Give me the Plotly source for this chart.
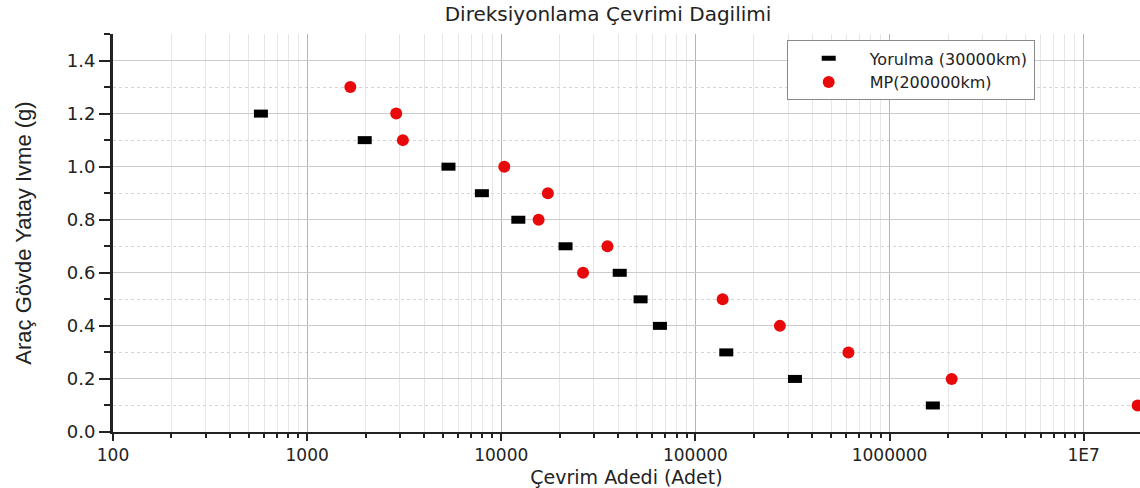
import plotly.graph_objects as go

# Cycle counts per lateral body acceleration level
yorulma_g = [1.2, 1.1, 1.0, 0.9, 0.8, 0.7, 0.6, 0.5, 0.4, 0.3, 0.2, 0.1]
yorulma_cycles = [578, 1980, 5345, 7945, 12240, 21430, 40750, 52180, 65650,
                  144200, 325600, 1671000]

mp_g = [1.3, 1.2, 1.1, 1.0, 0.9, 0.8, 0.7, 0.6, 0.5, 0.4, 0.3, 0.2, 0.1]
mp_cycles = [1669, 2876, 3112, 10360, 17380, 15570, 35230, 26370, 138100,
             272300, 614000, 2090000, 18970000]

x_tickvals = [100, 1000, 10000, 100000, 1000000, 10000000]
x_ticktext = ["100", "1000", "10000", "100000", "1000000", "1E7"]

FONT = "DejaVu Sans"
X_RANGE = [2, 7.29]
Y_RANGE = [0, 1.5]

fig = go.Figure()

fig.add_trace(go.Scatter(
    x=yorulma_cycles, y=yorulma_g, mode="markers", name="Yorulma (30000km)",
    marker=dict(symbol="line-ew", size=10, line=dict(color="black", width=8)),
))
fig.add_trace(go.Scatter(
    x=mp_cycles, y=mp_g, mode="markers", name="MP(200000km)",
    marker=dict(symbol="circle", size=12, color="rgb(232,10,10)",
                line=dict(width=0)),
))

fig.update_layout(
    width=1140, height=488,
    margin=dict(l=113, r=0, t=34, b=53),
    paper_bgcolor="white", plot_bgcolor="white",
    font=dict(family=FONT, color="#222"),
    title=dict(text="Direksiyonlama Çevrimi Dagilimi",
               font=dict(family=FONT, size=20, color="#222"),
               xref="paper", x=0.482, xanchor="center",
               yref="container", y=0.972, yanchor="middle"),
    xaxis=dict(
        type="log", range=X_RANGE,
        tickvals=x_tickvals, ticktext=x_ticktext,
        tickfont=dict(family=FONT, size=17, color="#222"),
        ticks="outside", ticklen=7, tickwidth=2, tickcolor="#222",
        showline=True, linecolor="#222", linewidth=2,
        showgrid=True, gridcolor="#b4b4b4", gridwidth=1,
        minor=dict(dtick="D1", ticks="outside", ticklen=4, tickwidth=2,
                   tickcolor="#222", showgrid=True, gridcolor="#e6e6e6",
                   gridwidth=1),
        title=dict(text="Çevrim Adedi (Adet)", standoff=9,
                   font=dict(family=FONT, size=19, color="#222")),
        zeroline=False,
    ),
    xaxis2=dict(
        type="log", range=X_RANGE, overlaying="x", side="top",
        tickvals=x_tickvals, showticklabels=False,
        ticks="inside", ticklen=8, tickwidth=2, tickcolor="#222",
        showline=True, linecolor="#222", linewidth=2,
        showgrid=False,
        minor=dict(dtick="D1", ticks="inside", ticklen=5, tickwidth=2,
                   tickcolor="#222", showgrid=False),
    ),
    yaxis=dict(
        range=Y_RANGE, tickmode="linear", tick0=0, dtick=0.2,
        tickformat=".1f",
        tickfont=dict(family=FONT, size=18, color="#222"),
        ticks="outside", ticklen=11, tickwidth=2, tickcolor="#222",
        showline=True, linecolor="#222", linewidth=3,
        showgrid=True, gridcolor="#cbcbcb", gridwidth=1,
        minor=dict(tick0=0.1, dtick=0.2, ticks="outside", ticklen=6,
                   tickwidth=2, tickcolor="#222", showgrid=True,
                   gridcolor="#d4d4d4", griddash="dot", gridwidth=1),
        title=dict(text="Araç Gövde Yatay Ivme (g)", standoff=30,
                   font=dict(family="Liberation Sans", size=22, color="#222")),
        zeroline=False,
    ),
    yaxis2=dict(
        range=Y_RANGE, overlaying="y", side="right",
        tickmode="linear", tick0=0, dtick=0.2, showticklabels=False,
        ticks="inside", ticklen=11, tickwidth=2, tickcolor="#222",
        showline=False, showgrid=False, zeroline=False,
        minor=dict(tick0=0.1, dtick=0.2, ticks="inside", ticklen=6,
                   tickwidth=2, tickcolor="#222", showgrid=False),
    ),
    legend=dict(
        x=0.656, y=0.984, xanchor="left", yanchor="top",
        bgcolor="white", bordercolor="#8a8a8a", borderwidth=1,
        font=dict(family=FONT, size=16, color="#222"),
        itemwidth=72, tracegroupgap=0,
    ),
    showlegend=True,
)

fig.write_html("out.html")
